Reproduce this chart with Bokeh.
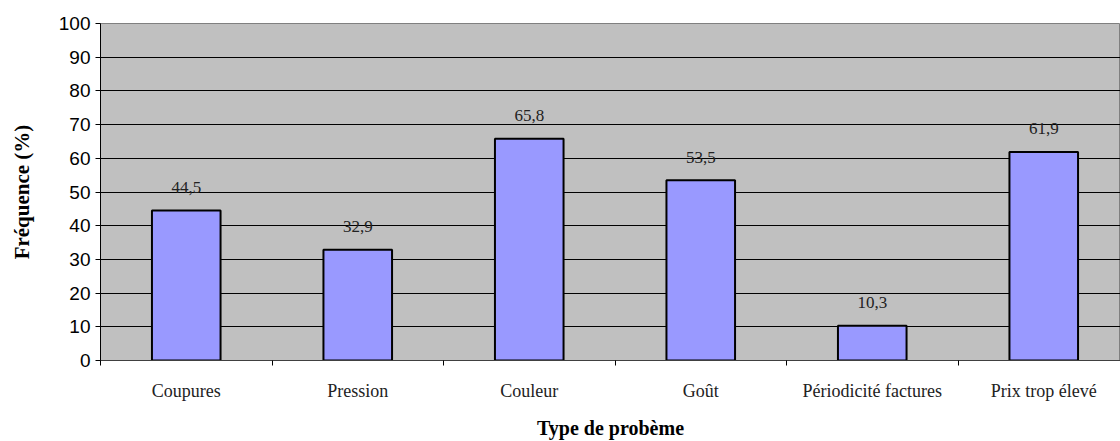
from bokeh.plotting import figure
from bokeh.models import FixedTicker, ColumnDataSource, Range1d
from bokeh.core.properties import value
from bokeh.embed import file_html
from bokeh.resources import INLINE

categories = ["Coupures", "Pression", "Couleur", "Goût", "Périodicité factures", "Prix trop élevé"]
frequences = [44.5, 32.9, 65.8, 53.5, 10.3, 61.9]
y_ticks = [0, 10, 20, 30, 40, 50, 60, 70, 80, 90, 100]

xs = list(range(len(categories)))
labels = [("%.1f" % v).replace(".", ",") for v in frequences]
src = ColumnDataSource(dict(x=xs, top=frequences, label=labels))

W, H = 1120, 441
p = figure(width=W, height=H, output_backend="svg", toolbar_location=None,
           x_range=Range1d(-0.5, -0.5 + 1020 / 171.5), y_range=Range1d(0, 100),
           min_border_left=100, min_border_right=0, min_border_top=23, min_border_bottom=81)

p.background_fill_color = "#C0C0C0"
p.border_fill_color = "white"
p.outline_line_color = "#808080"

p.vbar(x="x", top="top", bottom=0, width=0.40, source=src,
       fill_color="#9999FF", line_color="black", line_width=2)
p.text(x="x", y="top", text="label", source=src, y_offset=-23,
       text_align="center", text_baseline="alphabetic",
       text_font=value("Liberation Serif"), text_font_size="17px", text_color="#222222")

# x axis
p.xaxis.ticker = FixedTicker(ticks=xs, minor_ticks=[i - 0.5 for i in range(len(categories) + 1)])
p.xaxis.major_label_overrides = {i: c for i, c in enumerate(categories)}
p.xaxis.major_tick_out = 0
p.xaxis.major_tick_in = 0
p.xaxis.minor_tick_out = 5
p.xaxis.minor_tick_in = 0
p.xaxis.minor_tick_line_color = "black"
p.xaxis.axis_line_color = "#404040"
p.xaxis.major_label_standoff = 15
p.xaxis.major_label_text_font = "Liberation Serif"
p.xaxis.major_label_text_font_size = "18px"
p.xaxis.major_label_text_color = "#222222"
p.xaxis.axis_label = "Type de probème"
p.xaxis.axis_label_text_font = "Liberation Serif"
p.xaxis.axis_label_text_font_style = "bold"
p.xaxis.axis_label_text_font_size = "20px"
p.xaxis.axis_label_standoff = 13
p.xaxis.axis_label_text_color = "black"

# y axis
p.yaxis.ticker = FixedTicker(ticks=y_ticks)
p.yaxis.major_tick_out = 5
p.yaxis.major_tick_in = 0
p.yaxis.minor_tick_out = 0
p.yaxis.minor_tick_in = 0
p.yaxis.axis_line_color = "black"
p.yaxis.major_tick_line_color = "black"
p.yaxis.major_label_standoff = 5
p.yaxis.major_label_text_font = "Liberation Sans"
p.yaxis.major_label_text_font_size = "19px"
p.yaxis.major_label_text_color = "black"
p.yaxis.axis_label = "Fréquence (%)"
p.yaxis.axis_label_text_font = "Liberation Serif"
p.yaxis.axis_label_text_font_style = "bold"
p.yaxis.axis_label_text_font_size = "21px"
p.yaxis.axis_label_standoff = 22
p.yaxis.axis_label_text_color = "black"

p.xgrid.visible = False
p.ygrid.ticker = FixedTicker(ticks=y_ticks)
p.ygrid.grid_line_color = "black"
p.ygrid.grid_line_width = 1
p.ygrid.grid_line_alpha = 1

open("out.html", "w").write(file_html(p, INLINE))
